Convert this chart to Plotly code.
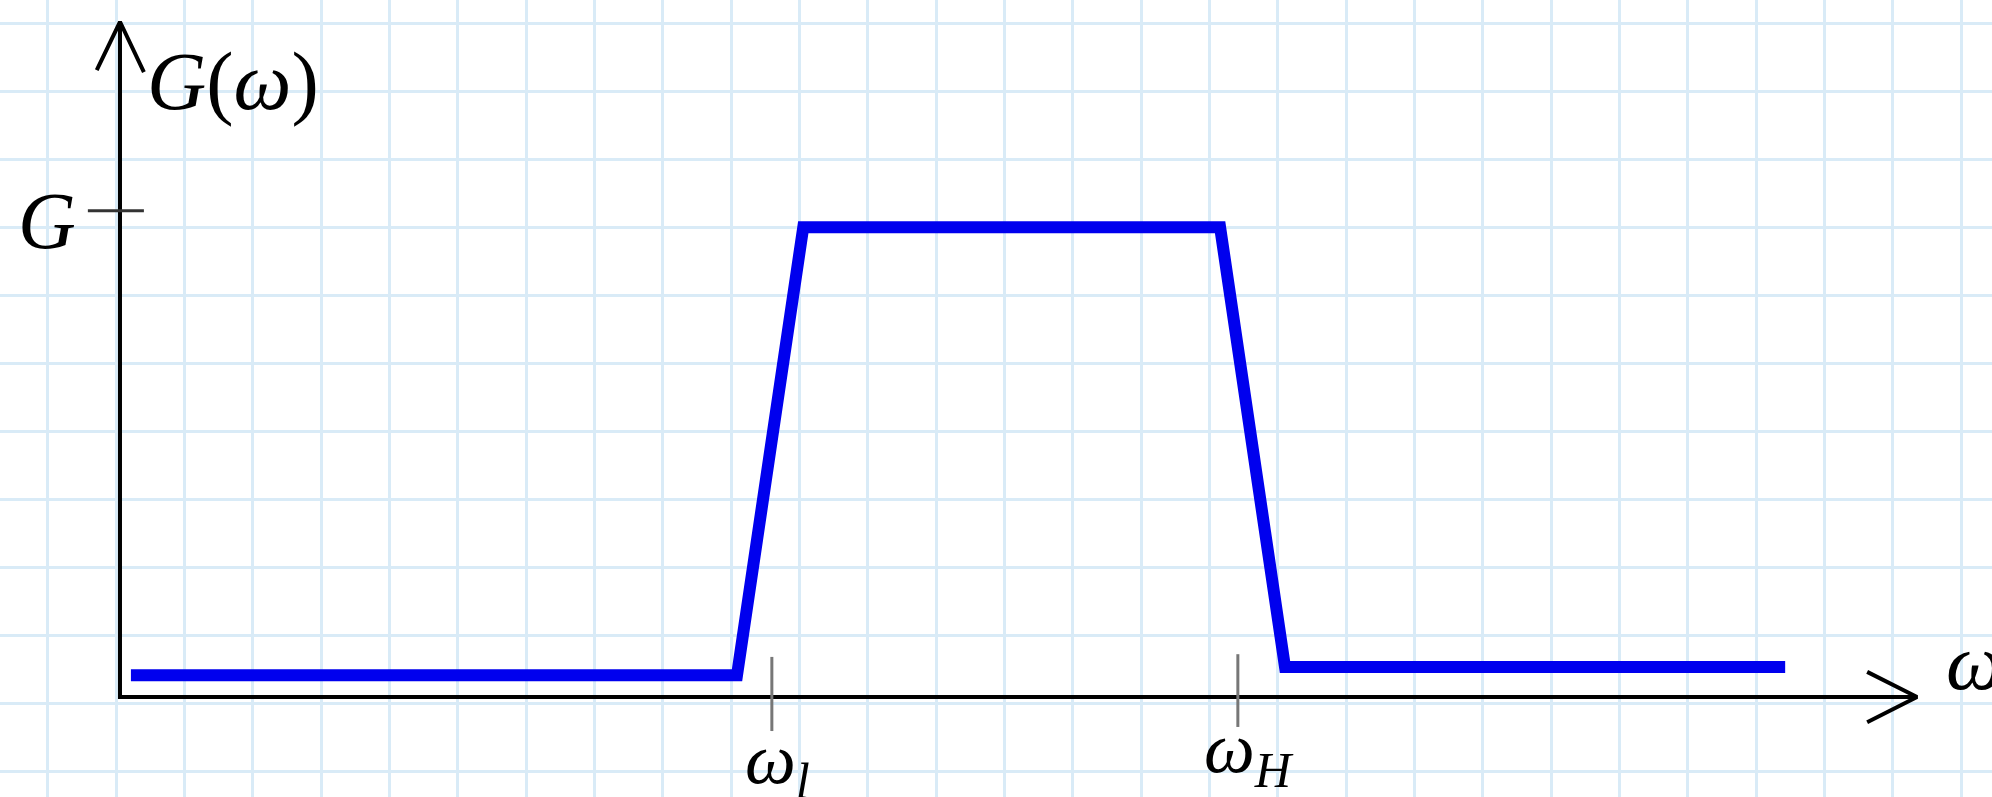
import plotly.graph_objects as go

# frequency response G(w), in grid cells (1 cell = one square of the paper)
omega = [0.16, 9.03, 10.0, 16.10, 17.05, 24.37]
gain = [0.32, 0.32, 6.91, 6.91, 0.44, 0.44]

# marked points on the axes
w_l = 9.54
w_h = 16.36
G_level = 7.15

# axis extents
x_axis_end = 26.30
y_axis_end = 9.93

BLUE = "#0000ee"
GRID = "#d9ebf7"
FONT = "Liberation Serif"

fig = go.Figure()

# response curve
fig.add_trace(go.Scatter(
    x=omega, y=gain, mode="lines",
    line=dict(color=BLUE, width=12),
    hoverinfo="skip"
))

# axes with open arrow heads
fig.add_trace(go.Scatter(
    x=[0, 0, x_axis_end], y=[y_axis_end, 0, 0], mode="lines",
    line=dict(color="black", width=4), hoverinfo="skip"
))
fig.add_trace(go.Scatter(
    x=[-0.34, 0, 0.35], y=[y_axis_end - 0.71, y_axis_end, y_axis_end - 0.74],
    mode="lines", line=dict(color="black", width=4), hoverinfo="skip"
))
fig.add_trace(go.Scatter(
    x=[x_axis_end - 0.73, x_axis_end, x_axis_end - 0.73], y=[0.37, 0, -0.37],
    mode="lines", line=dict(color="black", width=4), hoverinfo="skip"
))

# tick marks
fig.add_trace(go.Scatter(
    x=[-0.47, 0.35], y=[G_level, G_level], mode="lines",
    line=dict(color="#333333", width=3), hoverinfo="skip"
))
fig.add_trace(go.Scatter(
    x=[w_l, w_l, None, w_h, w_h], y=[0.59, -0.50, None, 0.63, -0.44],
    mode="lines", line=dict(color="#777777", width=3), hoverinfo="skip"
))

fig.add_annotation(x=0.36, y=9.05, text="<i>G</i>(<i>ω</i>)", showarrow=False,
                   xanchor="left", yanchor="middle",
                   font=dict(family=FONT, size=82, color="black"))
fig.add_annotation(x=-1.07, y=G_level - 0.15, text="<i>G</i>", showarrow=False,
                   xanchor="center", yanchor="middle",
                   font=dict(family=FONT, size=80, color="black"))
fig.add_annotation(x=9.12, y=-0.30, text="<i>ω<sub>l</sub></i>", showarrow=False,
                   xanchor="left", yanchor="top",
                   font=dict(family=FONT, size=72, color="black"))
fig.add_annotation(x=15.83, y=-0.13, text="<i>ω<sub>H</sub></i>", showarrow=False,
                   xanchor="left", yanchor="top",
                   font=dict(family=FONT, size=72, color="black"))
fig.add_annotation(x=26.69, y=0.51, text="<i>ω</i>", showarrow=False,
                   xanchor="left", yanchor="middle",
                   font=dict(family=FONT, size=80, color="black"))

fig.update_layout(
    width=1992, height=797,
    margin=dict(l=0, r=0, t=0, b=0),
    plot_bgcolor="white", paper_bgcolor="white",
    showlegend=False,
    xaxis=dict(range=[-1.756, 27.397], tick0=-0.055, dtick=1,
               showgrid=True, gridcolor=GRID, gridwidth=3,
               zeroline=False, showticklabels=False, ticks=""),
    yaxis=dict(range=[-1.47, 10.25], tick0=-0.1, dtick=1,
               showgrid=True, gridcolor=GRID, gridwidth=3,
               zeroline=False, showticklabels=False, ticks=""),
)

fig.write_html("out.html", config={"displayModeBar": False},
               post_script="document.body.style.margin='0';document.body.style.overflow='hidden';")
